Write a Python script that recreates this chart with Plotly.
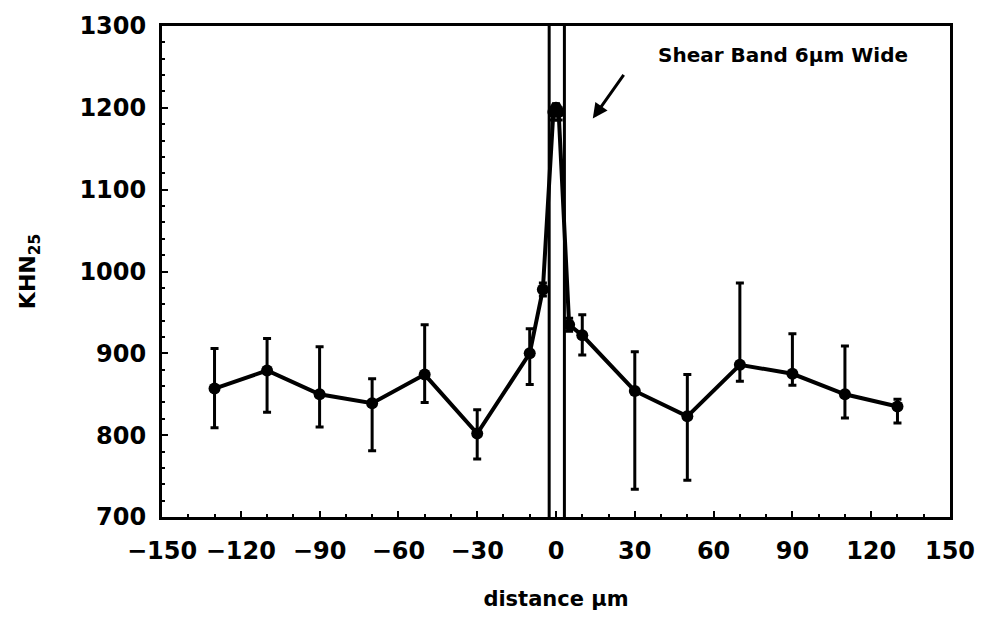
import plotly.graph_objects as go

# distance (µm) and Knoop hardness KHN25 values
distance = [-130, -110, -90, -70, -50, -30, -10, -5, -1, 0, 1, 5, 10, 30, 50, 70, 90, 110, 130]
khn = [857, 879, 850, 839, 874, 802, 900, 978, 1195, 1200, 1195, 935, 922, 854, 823, 886, 875, 850, 835]
err_plus = [49, 39, 58, 30, 61, 29, 30, 8, 5, 5, 5, 8, 25, 48, 51, 100, 49, 59, 9]
err_minus = [48, 51, 40, 58, 34, 31, 38, 8, 10, 10, 10, 8, 24, 120, 78, 20, 14, 29, 20]

band_left = -2.6
band_right = 3.2

x_ticks = [-150, -120, -90, -60, -30, 0, 30, 60, 90, 120, 150]
y_ticks = [700, 800, 900, 1000, 1100, 1200, 1300]

FONT = "DejaVu Sans"

fig = go.Figure()
fig.add_trace(go.Scatter(
    x=distance, y=khn, mode="lines+markers",
    line=dict(color="black", width=4),
    marker=dict(color="black", size=12),
    error_y=dict(type="data", symmetric=False, array=err_plus, arrayminus=err_minus,
                 color="black", thickness=3, width=4),
    showlegend=False,
))

# shear band boundaries
for bx in (band_left, band_right):
    fig.add_shape(type="line", xref="x", yref="paper", x0=bx, x1=bx, y0=0, y1=1,
                  line=dict(color="black", width=3))

fig.add_annotation(
    x=14, y=1187, xref="x", yref="y",
    ax=32, ay=-45,
    text="", showarrow=True, arrowhead=2, arrowsize=1, arrowwidth=3, arrowcolor="black",
)
fig.add_annotation(
    x=38, y=1265, xref="x", yref="y", xanchor="left", yanchor="middle",
    text="<b>Shear Band 6µm Wide</b>", showarrow=False,
    font=dict(family=FONT, size=20, color="black"),
)

fig.update_layout(
    width=987, height=626,
    margin=dict(l=162, r=34, t=21, b=109),
    paper_bgcolor="white", plot_bgcolor="white",
    font=dict(family=FONT, color="black"),
)
fig.update_xaxes(
    range=[-150, 150], tickvals=x_ticks,
    ticktext=[("−" + str(-v)) if v < 0 else str(v) for v in x_ticks],
    showgrid=False, zeroline=False,
    showline=True, linecolor="black", linewidth=3, mirror=True,
    ticks="inside", ticklen=6, tickwidth=2, tickcolor="black",
    minor=dict(dtick=10, tick0=0, ticks="inside", ticklen=3, tickwidth=2, tickcolor="black"),
    tickfont=dict(family=FONT, size=24, color="black", weight="bold"),
    ticklabelstandoff=10,
    title=dict(text="<b>distance µm</b>", font=dict(family=FONT, size=21, color="black"), standoff=28),
)
fig.update_yaxes(
    range=[700, 1300], tickvals=y_ticks,
    showgrid=False, zeroline=False,
    showline=True, linecolor="black", linewidth=3, mirror=True,
    ticks="inside", ticklen=6, tickwidth=2, tickcolor="black",
    minor=dict(dtick=20, tick0=700, ticks="inside", ticklen=3, tickwidth=2, tickcolor="black"),
    tickfont=dict(family=FONT, size=24, color="black", weight="bold"),
    ticklabelstandoff=8,
    title=dict(text="<b>KHN<sub>25</sub></b>", font=dict(family=FONT, size=22, color="black"), standoff=38),
)

fig.write_html("out.html")
